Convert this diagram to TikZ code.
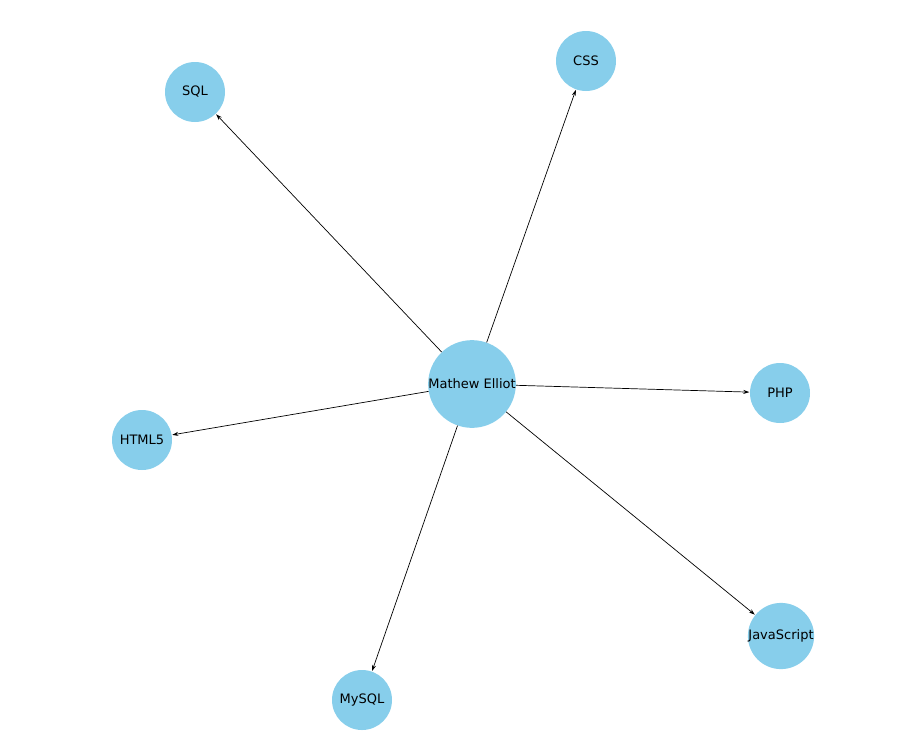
\documentclass[tikz,border=0pt]{standalone}
\usepackage{fontspec}
\setmainfont{DejaVu Sans}
\usetikzlibrary{arrows.meta}
\definecolor{sky}{HTML}{87CEEB}
\tikzset{vert/.style={circle,fill=sky,minimum size=60pt,inner sep=0pt,font=\fontsize{13}{15}\selectfont},
edge/.style={-{Stealth[length=6pt,width=4pt]},line width=0.7pt,shorten >=0.5pt}}
\begin{document}
\begin{tikzpicture}[x=1pt,y=-1pt]
\useasboundingbox (0,0) rectangle (899,745);
\node[vert] (m) at (472,384) {Mathew Elliot};
\node[vert] (sql) at (195,92) {SQL};
\node[vert] (css) at (586,61) {CSS};
\node[vert] (php) at (780,393) {PHP};
\node[vert] (html) at (142,440) {HTML5};
\node[vert] (js) at (781,636) {JavaScript};
\node[vert] (my) at (362,700) {MySQL};
\foreach \t in {sql,css,php,html,js,my} \draw[edge] (m) -- (\t);
\end{tikzpicture}
\end{document}
